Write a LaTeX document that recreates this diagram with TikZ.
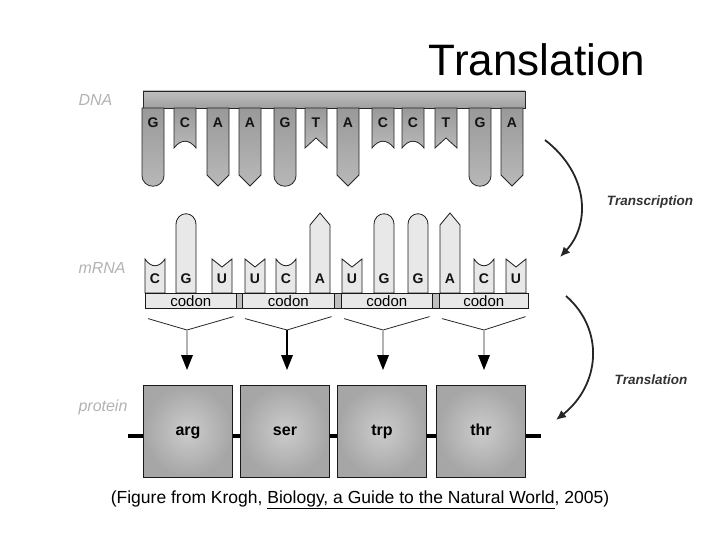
\documentclass[tikz,border=0pt]{standalone}
\usepackage{fontspec}
\setmainfont{Liberation Sans}
\usetikzlibrary{arrows.meta,calc}
\begin{document}
\begin{tikzpicture}[x=1pt,y=-1pt,
  dna/.style={draw=gray!30!black,line width=0.8pt,top color=gray!80,bottom color=gray!55},
  rna/.style={draw=gray!20!black,line width=0.8pt,fill=gray!18},
  base/.style={font=\bfseries\fontsize{14}{14}\selectfont,text=gray!15!black},
  side/.style={font=\itshape\fontsize{16}{16}\selectfont,text=gray!60},
  proc/.style={font=\itshape\bfseries\fontsize{13.5}{13.5}\selectfont,text=gray!40!black},
  pbox/.style={draw=gray!20!black,line width=0.8pt,inner color=gray!40,outer color=gray!70,minimum width=89pt,minimum height=92pt,text height=11pt,text depth=3pt,font=\bfseries\fontsize{16}{16}\selectfont},
  harr/.style={line width=1.8pt,-{Latex[length=10pt,width=9pt]}}]
\useasboundingbox (0,0) rectangle (720,540);
\newcommand\DG[2]{\path[dna] (#1-11,108)--(#1-11,175) .. controls (#1-11,190) and (#1+11,190) .. (#1+11,175)--(#1+11,108)--cycle; \node[base] at (#1,123) {#2};}
\newcommand\DA[2]{\path[dna] (#1-11,108)--(#1-11,175)--(#1,186)--(#1+11,175)--(#1+11,108)--cycle; \node[base] at (#1,123) {#2};}
\newcommand\DC[2]{\path[dna] (#1-11,108)--(#1-11,148) .. controls (#1-4,139) and (#1+4,139) .. (#1+11,148)--(#1+11,108)--cycle; \node[base] at (#1,123) {#2};}
\newcommand\DT[2]{\path[dna] (#1-11,108)--(#1-11,148)--(#1,138)--(#1+11,148)--(#1+11,108)--cycle; \node[base] at (#1,123) {#2};}
\newcommand\RG[2]{\path[rna] (#1-10,293)--(#1-10,225) .. controls (#1-10,210) and (#1+10,210) .. (#1+10,225)--(#1+10,293)--cycle; \node[base] at (#1,279) {#2};}
\newcommand\RA[2]{\path[rna] (#1-10,293)--(#1-10,225)--(#1,213)--(#1+10,225)--(#1+10,293)--cycle; \node[base] at (#1,279) {#2};}
\newcommand\RC[2]{\path[rna] (#1-10,293)--(#1-10,259) .. controls (#1-4,268) and (#1+4,268) .. (#1+10,259)--(#1+10,293)--cycle; \node[base] at (#1,279) {#2};}
\newcommand\RU[2]{\path[rna] (#1-10,293)--(#1-10,259)--(#1,267)--(#1+10,259)--(#1+10,293)--cycle; \node[base] at (#1,279) {#2};}
% title
\node (title) at (537,60) {\fontsize{44}{44}\selectfont Translation};
% side labels
\node[side,anchor=west] (ldna) at (75,100) {DNA};
\node[side,anchor=west] (lrna) at (75,268) {mRNA};
\node[side,anchor=west] (lpro) at (75,407) {protein};
% DNA
\path[draw=gray!30!black,line width=0.8pt,top color=gray!50,bottom color=gray!75] (143,91) rectangle (525,108);
\DG{153}{G}\DC{185}{C}\DA{218}{A}\DA{250}{A}\DG{285}{G}\DT{316}{T}
\DA{348}{A}\DC{383}{C}\DC{413}{C}\DT{446}{T}\DG{480}{G}\DA{512}{A}
% mRNA
\RC{155}{C}\RG{186}{G}\RU{222}{U}\RU{255}{U}\RC{286}{C}\RA{320}{A}
\RU{352}{U}\RG{384}{G}\RG{418}{G}\RA{450}{A}\RC{484}{C}\RU{516}{U}
\path[fill=gray!50,draw=gray!20!black,line width=0.8pt] (145,293) rectangle (528,308);
\foreach \a/\b/\n in {145/236/c1,242/334/c2,341/432/c3,439/528/c4}{
  \node[draw=gray!20!black,fill=gray!18,line width=0.6pt,inner sep=0pt,minimum width={(\b-\a)*1pt},minimum height=15pt,font=\fontsize{15}{15}\selectfont,anchor=north west] (\n) at (\a,293) {codon};
}
% codon arrows
\foreach \m/\n/\c in {187/c1/gray!60,287/c2/black,383/c3/gray!60,484/c4/gray!60}{
  \coordinate (v\n) at (\m,330);
  \draw[gray!30!black,line width=0.8pt] ($(\n.south west)+(3,10)$) -- (v\n) -- ($(\n.south east)+(-3,8)$);
  \draw[\c,line width=1.5pt] (v\n) -- (\m,358);
  \fill[black] (\m-6,355) -- (\m+6,355) -- (\m,370) -- cycle;
}
% protein
\coordinate (pl) at (128,436); \coordinate (pr) at (541,436);
\draw[line width=4pt] (pl) -- (pr);
\node[pbox] (p1) at (188,431) {arg};
\node[pbox] (p2) at (285,431) {ser};
\node[pbox] (p3) at (382,431) {trp};
\node[pbox] (p4) at (481,431) {thr};
% process arrows
\coordinate (t1) at (545,140); \coordinate (t2) at (560,257);
\draw[harr,gray!30!black] (t1) .. controls (590,175) and (590,225) .. (t2);
\node[proc] (ltr) at (650,202) {Transcription};
\coordinate (u1) at (566,296); \coordinate (u2) at (556,420);
\draw[harr,gray!30!black] (u1) .. controls (605,330) and (600,385) .. (u2);
\node[proc] (ltl) at (651,380) {Translation};
% caption
\node (cap) at (360,500) {\fontsize{17.5}{17.5}\selectfont (Figure from Krogh, \underline{Biology, a Guide to the Natural World}, 2005)};
\end{tikzpicture}
\end{document}
